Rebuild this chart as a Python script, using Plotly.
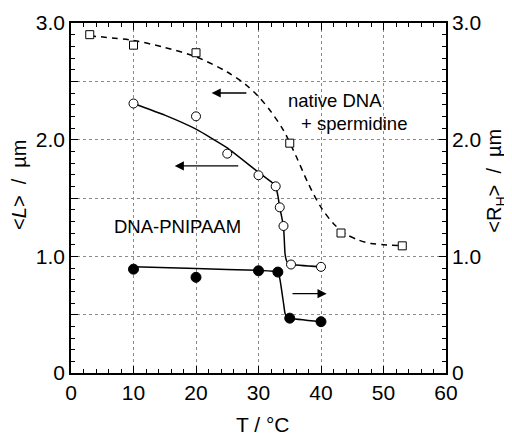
import plotly.graph_objects as go

# ---- data ----
# native DNA + spermidine (squares, right axis <R_H>)
T_native = [3, 10, 20, 35, 43.2, 53]
RH_native = [2.90, 2.81, 2.745, 1.97, 1.20, 1.09]
T_native_fit = [3, 10, 15, 20, 25, 28, 30, 32, 34, 36, 38, 40, 42, 44, 46, 48, 50, 53]
RH_native_fit = [2.89, 2.85, 2.79, 2.71, 2.58, 2.47, 2.37, 2.24, 2.08, 1.86, 1.62, 1.42, 1.28, 1.19, 1.14, 1.11, 1.10, 1.09]

# DNA-PNIPAAM contour length <L> (open circles, left axis)
T_L = [10, 20, 25, 30, 32.75, 33.4, 34.0, 35.2, 40]
L_vals = [2.31, 2.20, 1.88, 1.695, 1.60, 1.42, 1.26, 0.93, 0.91]
T_L_fit = [10, 15, 20, 25, 30, 32.0, 32.75, 33.1, 33.4, 33.7, 34.0, 34.1, 34.25, 34.5, 34.8, 35.2, 40]
L_fit = [2.31, 2.21, 2.09, 1.93, 1.72, 1.64, 1.60, 1.52, 1.42, 1.34, 1.26, 1.17, 1.02, 0.96, 0.94, 0.93, 0.91]

# DNA-PNIPAAM hydrodynamic radius <R_H> (filled circles, right axis)
T_RH = [10, 20, 30, 33.1, 35.0, 40]
RH_vals = [0.89, 0.82, 0.876, 0.865, 0.47, 0.44]
T_RH_fit = [10, 20, 30, 33.1, 33.44, 33.7, 34.0, 34.25, 34.6, 35.0, 40]
RH_fit = [0.91, 0.895, 0.88, 0.865, 0.80, 0.71, 0.60, 0.51, 0.48, 0.47, 0.44]

y_tickvals = [0, 1.0, 2.0, 3.0]
y_ticktext = ["0", "1.0", "2.0", "3.0"]
x_tickvals = [0, 10, 20, 30, 40, 50, 60]

FONT = "Liberation Sans, Arial, Helvetica, sans-serif"

fig = go.Figure()

fig.add_trace(go.Scatter(x=T_native_fit, y=RH_native_fit, mode="lines", yaxis="y2",
                         line=dict(color="black", width=1.5, dash="6px,5px", shape="spline", smoothing=0.8),
                         showlegend=False, hoverinfo="skip"))
fig.add_trace(go.Scatter(x=T_native, y=RH_native, mode="markers", yaxis="y2",
                         marker=dict(symbol="square", size=8, color="white", line=dict(color="black", width=1)),
                         showlegend=False))

fig.add_trace(go.Scatter(x=T_L_fit, y=L_fit, mode="lines", yaxis="y",
                         line=dict(color="black", width=1.5, shape="spline", smoothing=0.4),
                         showlegend=False, hoverinfo="skip"))
fig.add_trace(go.Scatter(x=T_L, y=L_vals, mode="markers", yaxis="y",
                         marker=dict(symbol="circle", size=9, color="white", line=dict(color="black", width=1)),
                         showlegend=False))

fig.add_trace(go.Scatter(x=T_RH_fit, y=RH_fit, mode="lines", yaxis="y2",
                         line=dict(color="black", width=1.5, shape="spline", smoothing=0.4),
                         showlegend=False, hoverinfo="skip"))
fig.add_trace(go.Scatter(x=T_RH, y=RH_vals, mode="markers", yaxis="y2",
                         marker=dict(symbol="circle", size=10, color="black", line=dict(color="black", width=1)),
                         showlegend=False))

# invisible trace so the half-step grid axis is drawn
fig.add_trace(go.Scatter(x=[0], y=[0], mode="markers", yaxis="y3", marker=dict(opacity=0),
                         showlegend=False, hoverinfo="skip"))

# arrows
arrows = [
    (28.3, 22.5, 2.40),
    (27.0, 16.6, 1.775),
    (35.2, 40.9, 0.68),
]
for x0, x1, yv in arrows:
    fig.add_annotation(x=x1, y=yv, ax=x0, ay=yv, xref="x", yref="y", axref="x", ayref="y",
                       showarrow=True, arrowhead=2, arrowsize=1.3, arrowwidth=1.4, arrowcolor="black", text="")

texts = [
    ("native DNA", 42.2, 2.34),
    ("+ spermidine", 45.3, 2.14),
    ("DNA-PNIPAAM", 17.1, 1.26),
]
for t, xv, yv in texts:
    fig.add_annotation(x=xv, y=yv, xref="x", yref="y", text=t, showarrow=False,
                       xanchor="center", yanchor="middle",
                       font=dict(family=FONT, size=18.5, color="black"))

# axis titles
fig.add_annotation(x=0.511, y=-0.148, xref="paper", yref="paper", text="T / °C", showarrow=False,
                   xanchor="center", yanchor="middle",
                   font=dict(family=FONT, size=21, color="black"))
fig.add_annotation(x=-0.139, y=0.537, xref="paper", yref="paper", text="&lt;<i>L</i>&gt;  /  µm",
                   textangle=-90, showarrow=False, xanchor="center", yanchor="middle",
                   font=dict(family=FONT, size=20, color="black"))
fig.add_annotation(x=1.132, y=0.551, xref="paper", yref="paper", text="&lt;R<sub>H</sub>&gt;  /  µm",
                   textangle=-90, showarrow=False, xanchor="center", yanchor="middle",
                   font=dict(family=FONT, size=20, color="black"))

# page body adds an 8px margin, so the figure is 8px smaller and margins are shifted
fig.update_layout(
    width=504, height=427,
    margin=dict(l=63, r=66, t=15, b=62),
    paper_bgcolor="white", plot_bgcolor="white",
    font=dict(family=FONT, size=20, color="black"),
    xaxis=dict(range=[0, 60], tickmode="array", tickvals=x_tickvals,
               ticks="inside", ticklen=7, tickwidth=1, tickcolor="black",
               minor=dict(dtick=2, tick0=0, ticks="inside", ticklen=4, tickcolor="black", showgrid=False),
               showline=True, linecolor="black", linewidth=1.5, mirror="ticks",
               showgrid=True, gridcolor="#8a8a8a", griddash="dot", gridwidth=1,
               zeroline=False, automargin=False,
               tickfont=dict(size=21)),
    yaxis=dict(range=[0, 3.0], tickmode="array", tickvals=y_tickvals, ticktext=y_ticktext,
               ticks="inside", ticklen=7, tickwidth=1, tickcolor="black",
               minor=dict(dtick=0.1, tick0=0, ticks="inside", ticklen=4, tickcolor="black", showgrid=False),
               showline=True, linecolor="black", linewidth=1.5,
               showgrid=False, zeroline=False, automargin=False,
               tickfont=dict(size=21)),
    yaxis3=dict(range=[0, 3.0], overlaying="y", side="left", tickmode="linear", tick0=0, dtick=0.5,
                ticks="inside", ticklen=7, tickwidth=1, tickcolor="black",
                showticklabels=False, showline=False,
                showgrid=True, gridcolor="#8a8a8a", griddash="dot", gridwidth=1,
                zeroline=False, automargin=False),
    yaxis2=dict(range=[0, 3.0], overlaying="y", side="right", tickmode="array",
                tickvals=y_tickvals, ticktext=y_ticktext,
                ticks="inside", ticklen=7, tickwidth=1, tickcolor="black",
                minor=dict(dtick=0.1, tick0=0, ticks="inside", ticklen=4, tickcolor="black", showgrid=False),
                showline=True, linecolor="black", linewidth=1.5,
                showgrid=False, zeroline=False, automargin=False,
                tickfont=dict(size=21)),
)

fig.write_html("out.html")
